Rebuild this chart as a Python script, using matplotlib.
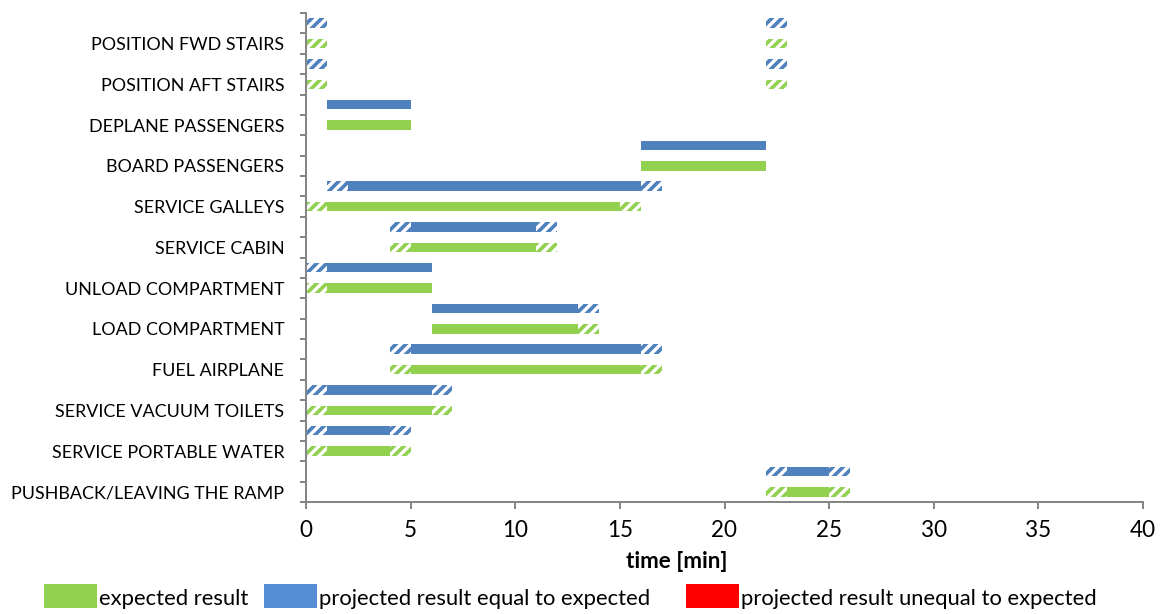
import matplotlib
matplotlib.use('Agg')
import matplotlib.pyplot as plt
from matplotlib.patches import Rectangle

plt.rcParams['font.family'] = ['Lato', 'DejaVu Sans']
plt.rcParams['hatch.linewidth'] = 2.2

# tasks, top to bottom
tasks = ["POSITION FWD STAIRS", "POSITION AFT STAIRS", "DEPLANE PASSENGERS",
         "BOARD PASSENGERS", "SERVICE GALLEYS", "SERVICE CABIN",
         "UNLOAD COMPARTMENT", "LOAD COMPARTMENT", "FUEL AIRPLANE",
         "SERVICE VACUUM TOILETS", "SERVICE PORTABLE WATER",
         "PUSHBACK/LEAVING THE RAMP"]

# expected result: solid part (start, end) and hatched buffers [min]
exp_solid = [None, None, (1, 5), (16, 22), (1, 15), (5, 11), (1, 6),
             (6, 13), (5, 16), (1, 6), (1, 4), (23, 25)]
exp_hatch = [[(0, 1), (22, 23)], [(0, 1), (22, 23)], [], [],
             [(0, 1), (15, 16)], [(4, 5), (11, 12)], [(0, 1)], [(13, 14)],
             [(4, 5), (16, 17)], [(0, 1), (6, 7)], [(0, 1), (4, 5)],
             [(22, 23), (25, 26)]]

# projected result equal to expected
proj_solid = [None, None, (1, 5), (16, 22), (2, 16), (5, 11), (1, 6),
              (6, 13), (5, 16), (1, 6), (1, 4), (23, 25)]
proj_hatch = [[(0, 1), (22, 23)], [(0, 1), (22, 23)], [], [],
              [(1, 2), (16, 17)], [(4, 5), (11, 12)], [(0, 1)], [(13, 14)],
              [(4, 5), (16, 17)], [(0, 1), (6, 7)], [(0, 1), (4, 5)],
              [(22, 23), (25, 26)]]

leg_labels = ["expected result", "projected result equal to expected",
              "projected result unequal to expected"]
leg_colors = ['#92D050', '#558ED5', '#FF0000']

GREEN = '#92D050'
BLUE = '#4F81BD'
GRAY = '#868686'

W, H, DPI = 1163, 614, 120
fig = plt.figure(figsize=(W / DPI, H / DPI), dpi=DPI)
ax = fig.add_axes([306 / W, 1 - 502 / H, (1143 - 306) / W, (502 - 13) / H])

bh = 0.47
for k in range(len(tasks)):
    rows = ((2 * k + 0.5, proj_solid[k], proj_hatch[k], BLUE),
            (2 * k + 1.5, exp_solid[k], exp_hatch[k], GREEN))
    for y, solid, hatch, col in rows:
        if solid:
            ax.barh(y, solid[1] - solid[0], left=solid[0], height=bh,
                    color=col, lw=0)
        for a, b in hatch:
            ax.barh(y, b - a, left=a, height=bh, facecolor='white',
                    edgecolor=col, hatch='////', lw=0)

ax.set_xlim(0, 40)
ax.set_ylim(2 * len(tasks), 0)
ax.set_xticks(range(0, 41, 5))
ax.set_yticks(range(0, 2 * len(tasks) + 1))
ax.set_yticklabels([])
ax.set_yticks([2 * k + 1.5 for k in range(len(tasks))], minor=True)
ax.set_yticklabels(tasks, minor=True)
ax.tick_params(axis='y', which='minor', length=0, pad=13, labelsize=10.7)
ax.tick_params(axis='y', which='major', length=3.6, width=1.2, color=GRAY)
ax.tick_params(axis='x', length=4, width=1.2, color=GRAY, pad=7,
               labelsize=13.5)
for s in ('top', 'right'):
    ax.spines[s].set_visible(False)
for s in ('left', 'bottom'):
    ax.spines[s].set_color(GRAY)
    ax.spines[s].set_linewidth(1.2)

fig.text(677 / W, 1 - 561 / H, "time [min]", ha='center', va='center',
         fontsize=13.5, fontweight='bold')

# legend
leg_x = [44, 264, 686]
for x, col, lab in zip(leg_x, leg_colors, leg_labels):
    fig.add_artist(Rectangle((x / W, 1 - 608 / H), 53 / W, 24 / H,
                             transform=fig.transFigure, color=col, lw=0))
    fig.text((x + 55) / W, 1 - 599 / H, lab, ha='left', va='center',
             fontsize=13.2)

fig.savefig('out.png', dpi=DPI)
